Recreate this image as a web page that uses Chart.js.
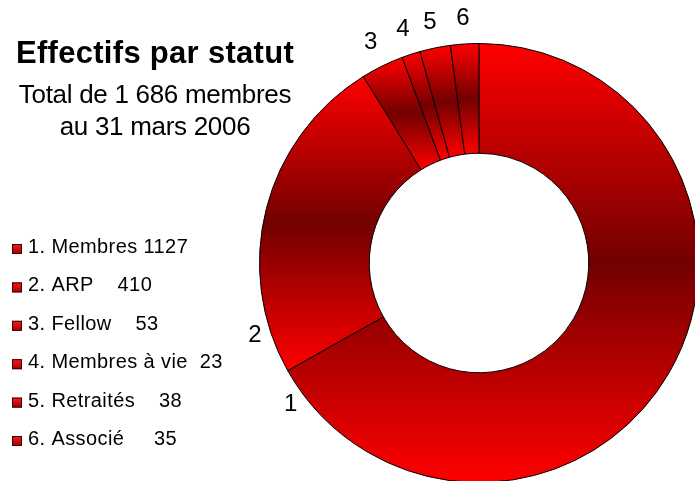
<!DOCTYPE html>
<html>
<head>
<meta charset="utf-8">
<script src="https://cdn.jsdelivr.net/npm/chart.js@4.4.1/dist/chart.umd.min.js"></script>
<style>
    html, body { margin: 0; padding: 0; background: #fff; overflow: hidden; }
    #wrap { position: relative; width: 695px; height: 481px; overflow: hidden; }
    #chart { position: absolute; left: 0; top: 0; }
</style>
</head>
<body>
<div id="wrap"><canvas id="chart" width="960" height="560"></canvas></div>
<script>
const categories = ["1. Membres", "2. ARP", "3. Fellow", "4. Membres à vie", "5. Retraités", "6. Associé"];
const segmentLabels = ["1", "2", "3", "4", "5", "6"];
const members = [1127, 410, 53, 23, 38, 35];
const legendGaps = [1, 4, 4, 2, 4, 5];
const titleText = "Effectifs par statut";
const subtitleLines = ["Total de 1 686 membres", "au 31 mars 2006"];

const FONT = '"Liberation Sans", Arial, sans-serif';

// each slice gets its own vertical gradient over its bounding box
function segmentGradient(context) {
    const chart = context.chart;
    const ctrl = chart.getDatasetMeta(context.datasetIndex).controller;
    const area = chart.chartArea;
    if (!area || !ctrl || !ctrl.outerRadius) {
        return "#ff0000";
    }
    const cy = (area.top + area.bottom) / 2 + (ctrl.offsetY || 0);
    const total = members.reduce((a, b) => a + b, 0);
    let before = 0;
    for (let i = 0; i < context.dataIndex; i++) {
        before += members[i];
    }
    const a0 = -Math.PI / 2 + 2 * Math.PI * before / total;
    const a1 = a0 + 2 * Math.PI * members[context.dataIndex] / total;
    let top = Infinity, bottom = -Infinity;
    for (let k = 0; k <= 120; k++) {
        const a = a0 + (a1 - a0) * k / 120;
        for (const r of [ctrl.innerRadius, ctrl.outerRadius]) {
            const y = cy + r * Math.sin(a);
            top = Math.min(top, y);
            bottom = Math.max(bottom, y);
        }
    }
    const g = chart.ctx.createLinearGradient(0, top, 0, bottom);
    g.addColorStop(0, "#ff0000");
    g.addColorStop(0.5, "#720000");
    g.addColorStop(1, "#ff0000");
    return g;
}

const sliceLabels = {
    id: "sliceLabels",
    afterDatasetsDraw(chart) {
        const ctx = chart.ctx;
        const arcs = chart.getDatasetMeta(0).data;
        const deg = Math.PI / 180;
        ctx.save();
        ctx.font = "24px " + FONT;
        ctx.fillStyle = "#000";
        ctx.textAlign = "center";
        ctx.textBaseline = "middle";
        arcs.forEach((arc, i) => {
            const p = arc.getProps(["x", "y", "startAngle", "endAngle", "outerRadius"], true);
            let angle = (p.startAngle + p.endAngle) / 2;
            let r = p.outerRadius + 26;
            if (i === 0) {
                angle = p.endAngle - 7.5 * deg;
                r = p.outerRadius + 16;
            }
            if (i === 1) {
                angle = p.startAngle + 11.5 * deg;
                r = p.outerRadius + 16;
            }
            ctx.fillText(segmentLabels[i], p.x + r * Math.cos(angle), p.y + r * Math.sin(angle));
        });
        ctx.restore();
    }
};

const sideText = {
    id: "sideText",
    afterDraw(chart) {
        const ctx = chart.ctx;
        ctx.save();
        ctx.fillStyle = "#000";
        ctx.textBaseline = "alphabetic";

        ctx.textAlign = "center";
        ctx.font = "bold 31px " + FONT;
        ctx.letterSpacing = "0.3px";
        ctx.fillText(titleText, 155, 63);

        ctx.font = "26px " + FONT;
        ctx.letterSpacing = "-0.3px";
        ctx.fillText(subtitleLines[0], 155, 103);
        ctx.fillText(subtitleLines[1], 155, 135);

        ctx.textAlign = "left";
        ctx.font = "20px " + FONT;
        ctx.letterSpacing = "0.4px";
        categories.forEach((name, i) => {
            const base = 253 + 38.4 * i;
            const g = ctx.createLinearGradient(0, base - 9, 0, base + 1);
            g.addColorStop(0, "#ff1a1a");
            g.addColorStop(1, "#a00000");
            ctx.fillStyle = g;
            ctx.fillRect(12, base - 9, 10, 10);
            ctx.strokeStyle = "#3a0000";
            ctx.lineWidth = 1;
            ctx.strokeRect(12.5, base - 8.5, 9, 9);
            ctx.fillStyle = "#000";
            ctx.fillText(name + " ".repeat(legendGaps[i]) + members[i], 28, base);
        });
        ctx.restore();
    }
};

new Chart(document.getElementById("chart"), {
    type: "doughnut",

    data: {
        labels: categories,
        datasets: [
            {
                data: members,
                backgroundColor: segmentGradient,
                borderColor: "#000",
                borderWidth: 1
            }
        ]
    },

    options: {
        responsive: false,
        animation: false,
        events: [],
        cutout: "50%",
        layout: {
            padding: { left: 259, right: 261, top: 43, bottom: 77 }
        },
        plugins: {
            legend: { display: false },
            tooltip: { enabled: false }
        }
    },

    plugins: [sliceLabels, sideText]
});
</script>
</body>
</html>
